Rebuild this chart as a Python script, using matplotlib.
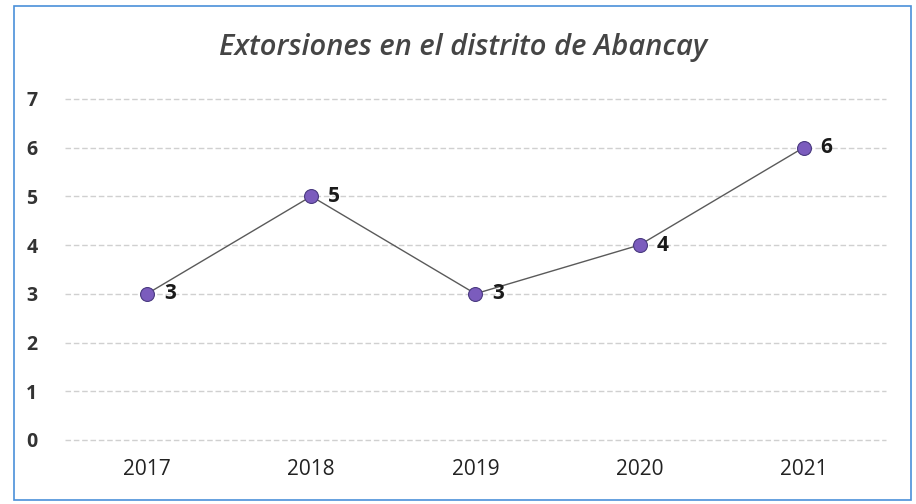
import matplotlib.pyplot as plt
from matplotlib.patches import Rectangle

years = ['2017', '2018', '2019', '2020', '2021']
extorsiones = [3, 5, 3, 4, 6]
yticks = [0, 1, 2, 3, 4, 5, 6, 7]
title = 'Extorsiones en el distrito de Abancay'

plt.rcParams['font.family'] = ['Open Sans', 'DejaVu Sans']

fig = plt.figure(figsize=(9.16, 5.04), dpi=100)
ax = fig.add_axes([0.071, 0.127, 0.896, 0.677])

x = list(range(len(years)))
ax.plot(x, extorsiones, color='#5a5a5a', lw=1.0, zorder=2)
ax.plot(x, extorsiones, 'o', ms=10, color='#7b5cbd', mec='#4a3a80', mew=0.8, zorder=3)

for xi, v in zip(x, extorsiones):
    ax.annotate(str(v), (xi, v), xytext=(12, 0), textcoords='offset points',
                ha='left', va='center', fontsize=15, fontweight='bold', color='#1a1a1a')

ax.set_xlim(-0.5, len(years) - 0.5)
ax.set_ylim(0, 7)
ax.set_xticks(x)
ax.set_xticklabels(years, fontsize=15, color='#222222')
ax.set_yticks(yticks)
ax.set_yticklabels([str(t) for t in yticks], fontsize=14, fontweight='bold', color='#333333')
ax.tick_params(length=0)
ax.tick_params(axis='x', pad=14)
ax.tick_params(axis='y', pad=20)
ax.yaxis.grid(True, color='#d0d0d0', lw=1, ls=(0, (4, 2)))
for gl in ax.get_ygridlines():
    gl.set_clip_on(False)
ax.set_axisbelow(True)
for s in ax.spines.values():
    s.set_visible(False)

fig.text(0.506, 0.905, title, ha='center', va='center', fontsize=21,
         style='italic', fontweight='semibold', color='#454545')

fig.patches.append(Rectangle((14 / 916, 4 / 504), 897 / 916, 494 / 504,
                             transform=fig.transFigure, fill=False,
                             edgecolor='#4a90d9', lw=1.2))

fig.savefig('out.png', dpi=100)
